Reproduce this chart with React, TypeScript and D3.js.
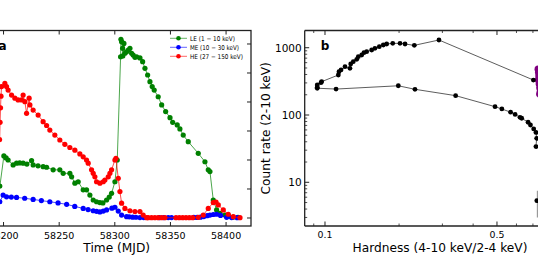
import React from 'react';
import * as d3 from 'd3';

// panel a: Insight-HXMT light curves (time in MJD, rate in arbitrary units)
const leTime = [58191, 58194, 58196.7, 58200.3, 58202.3, 58204.1, 58208.6, 58211.7, 58214.5, 58217.6, 58221, 58225.2, 58226.6, 58231, 58235.6, 58238.7, 58244.6, 58250.6, 58253.6, 58259.6, 58261.2, 58264.1, 58267.1, 58271.6, 58274.6, 58277.6, 58280.6, 58283.6, 58286.6, 58289.3, 58292.6, 58295, 58297.1, 58300.1, 58302.2, 58305.2, 58305.5, 58306.1, 58307, 58307.2, 58308.2, 58309.1, 58310.6, 58312.1, 58313.6, 58315.1, 58316.5, 58318.1, 58319.6, 58322.6, 58325, 58327.1, 58329.5, 58331.6, 58333.6, 58335.4, 58339, 58342.1, 58345.7, 58349.6, 58352, 58356.1, 58358.5, 58361.5, 58366, 58375, 58381, 58384, 58385.5, 58388.5, 58391.5, 58394.5, 58399, 58402.5, 58406.2, 58410.7];
const leRate = [20, 60, 110, 214, 207, 200, 183, 189, 190, 189, 186, 198, 183, 180, 177, 175, 166, 166, 154, 154, 142, 120, 125, 97, 97, 79, 62, 56, 53, 52, 62, 72, 85, 125, 200, 556, 616, 608, 585, 559, 602, 568, 573, 579, 585, 568, 562, 554, 556, 552, 539, 516, 493, 470, 453, 441, 418, 390, 367, 346, 330, 321, 307, 286, 263, 223, 194, 166, 160, 62, 28, 16, 10, 6, 3, 2];

const meTime = [58191, 58194, 58196.7, 58199.6, 58202.7, 58207, 58211.7, 58219, 58226.6, 58234, 58241.6, 58249, 58256.7, 58264, 58271.6, 58276, 58280.6, 58283.6, 58286.6, 58289.6, 58292.6, 58297.4, 58300.1, 58303.1, 58306.1, 58310.6, 58313, 58316, 58319, 58322.6, 58326, 58340, 58344, 58348, 58351, 58371, 58374, 58377, 58380, 58383, 58385.5, 58388.5, 58391.5, 58395, 58400.5, 58405, 58410];
const meRate = [15, 35, 56, 79, 73, 72, 71, 68, 64, 60, 56, 52, 47, 40, 33, 29, 25, 23, 21, 24, 28, 34, 37, 24, 10, 4.5, 4, 3, 2.5, 1.5, 1.5, 1.5, 1.5, 1.5, 1.5, 2, 2, 3, 5, 8, 10, 12, 13, 9, 2.4, 1.5, 1];

const heTime = [58191, 58194, 58196.5, 58196.9, 58197.3, 58197.7, 58198.2, 58201.2, 58202.7, 58204.1, 58207.2, 58210.2, 58213.1, 58216.2, 58217.6, 58219.2, 58220.7, 58223, 58223.7, 58226.6, 58231.1, 58235.6, 58238.7, 58241.6, 58246.1, 58250.6, 58255.1, 58259.6, 58264.1, 58268.6, 58271.6, 58274.6, 58276.1, 58279.1, 58280.6, 58282.1, 58283.6, 58286.6, 58289.6, 58291.1, 58294.1, 58295.6, 58297.1, 58300.1, 58301, 58303.1, 58304.6, 58306.1, 58309.1, 58313.6, 58318.1, 58322.6, 58325.5, 58328.6, 58330, 58333, 58336, 58339, 58342, 58345, 58355, 58358, 58361, 58364, 58367, 58370, 58375, 58379.5, 58384, 58388.5, 58391, 58393, 58397.5, 58402, 58406.5, 58412.5];
const heRate = [120, 200, 270, 330, 380, 420, 453, 464, 453, 441, 424, 413, 407, 407, 424, 401, 361, 413, 390, 372, 355, 332, 319, 303, 286, 269, 254, 243, 234, 221, 211, 200, 189, 166, 154, 142, 125, 120, 125, 131, 142, 154, 166, 200, 206, 137, 91, 51, 33, 25, 22, 22, 10, 1, 1, 1, 1, 1, 1, 1, 1, 1, 1, 1, 1, 1, 2.4, 10, 33, 53, 55, 45, 28, 13, 4.5, 1];

const xTicksA = [58200, 58250, 58300, 58350, 58400];
const yTicksA = [0, 100, 200, 300, 400, 500, 600];

// panel b: hardness-intensity diagram
const hidHardness = [0.703, 0.2905, 0.2307, 0.2115, 0.2018, 0.1885, 0.1781, 0.1726, 0.1662, 0.1596, 0.1548, 0.1477, 0.144, 0.141, 0.1366, 0.1346, 0.1303, 0.1272, 0.1263, 0.1206, 0.1162, 0.114, 0.1133, 0.0969, 0.0963, 0.093, 0.093, 0.093, 0.1109, 0.1986, 0.2321, 0.3396, 0.491, 0.5234, 0.568, 0.5925, 0.62, 0.63, 0.669, 0.684, 0.705, 0.72, 0.725, 0.72];
const hidRate = [331, 1302, 1085, 1135, 1162, 1162, 1135, 1097, 1035, 980, 925, 873, 843, 779, 735, 673, 620, 573, 494, 522, 467, 440, 393, 313, 302, 279, 258, 250, 243, 272, 241, 194, 133, 123, 110, 102, 92.5, 89.5, 78, 71, 62, 55, 45, 34];
const faintHardness = 0.726;
const faintRate = 5.33;
const faintErrLow = 3.0;
const faintErrHigh = 7.5;
const purpleHardness = [0.735, 0.738, 0.74, 0.737, 0.742, 0.746, 0.75, 0.745];
const purpleRate = [480, 430, 380, 330, 290, 255, 225, 205];

const xTicksB = [0.1, 0.5];
const xMinorB = [0.09, 0.2, 0.3, 0.4, 0.6, 0.7, 0.8];
const yTicksB = [10, 100, 1000];

const font = 'DejaVu Sans, sans-serif';

function Curve({ t, v, color, x, y }) {
  const pts = t.map((d, i) => [x(d), y(v[i])]);
  const line = d3.line()(pts);
  return (
    <g>
      <path d={line} fill="none" stroke={color} strokeOpacity={0.7} strokeWidth={1} />
      {pts.map((p, i) => (
        <circle key={i} cx={p[0]} cy={p[1]} r={2.6} fill={color} />
      ))}
    </g>
  );
}

export default function App() {
  const xA = d3.scaleLinear().domain([58181, 58422.4]).range([-17.6, 251]);
  const yA = d3.scaleLinear().domain([-27.6, 646.5]).range([226, 30.5]);
  const xB = d3.scaleLog().domain([0.0827, 0.8]).range([304.7, 547.2]);
  const yB = d3.scaleLog().domain([2.24, 1803]).range([226, 30.5]);

  const yMinorB = [];
  [1, 10, 100, 1000].forEach((dec) => {
    for (let m = 2; m <= 9; m++) {
      const val = dec * m;
      if (val > 2.24 && val < 1803) yMinorB.push(val);
    }
  });

  const hidPts = hidHardness.map((h, i) => [xB(h), yB(hidRate[i])]);
  const legend = [
    { label: 'LE (1 − 10 keV)', color: 'green', len: 45 },
    { label: 'ME (10 − 30 keV)', color: 'blue', len: 49 },
    { label: 'HE (27 − 150 keV)', color: 'red', len: 53 },
  ];

  return (
    <svg width={538} height={255} style={{ position: 'absolute', left: 0, top: 0 }} fontFamily={font}>
      <rect width={538} height={255} fill="white" />

      {/* panel a */}
      <g>
        <Curve t={leTime} v={leRate} color="green" x={xA} y={yA} />
        <Curve t={meTime} v={meRate} color="blue" x={xA} y={yA} />
        <Curve t={heTime} v={heRate} color="red" x={xA} y={yA} />
        <rect x={-17.6} y={30.5} width={268.6} height={195.5} fill="none" stroke="#222" strokeWidth={1.3} />
        {xTicksA.map((t) => (
          <g key={t}>
            <line x1={xA(t)} x2={xA(t)} y1={226} y2={222} stroke="#222" />
            <line x1={xA(t)} x2={xA(t)} y1={30.5} y2={34.5} stroke="#222" />
            <text x={xA(t)} y={238.5} fontSize={9.5} textAnchor="middle">{t}</text>
          </g>
        ))}
        {yTicksA.map((v) => (
          <line key={v} x1={251} x2={247} y1={yA(v)} y2={yA(v)} stroke="#222" />
        ))}
        <text x={116.7} y={251.5} fontSize={12.2} textAnchor="middle">Time (MJD)</text>
        <text x={-1.6} y={50} fontSize={12} fontWeight="bold">a</text>
        {legend.map((l, i) => (
          <g key={l.label} transform={`translate(0,${38.3 + i * 9})`}>
            <line x1={170} x2={187} y1={0} y2={0} stroke={l.color} strokeOpacity={0.6} strokeWidth={1} />
            <circle cx={178.5} cy={0} r={2.3} fill={l.color} />
            <text x={190} y={2.4} fontSize={6.6} textLength={l.len} lengthAdjust="spacingAndGlyphs">{l.label}</text>
          </g>
        ))}
      </g>

      {/* panel b */}
      <g>
        {purpleHardness.map((h, i) => (
          <circle key={i} cx={xB(h)} cy={yB(purpleRate[i])} r={3.6} fill="purple" />
        ))}
        <line x1={xB(faintHardness) + 1} x2={xB(faintHardness) + 1} y1={yB(faintErrLow)} y2={yB(faintErrHigh)} stroke="#999" strokeWidth={2} />
        <circle cx={xB(faintHardness)} cy={yB(faintRate)} r={2.4} fill="black" />
        <path d={d3.line()(hidPts)} fill="none" stroke="#333" strokeWidth={0.8} />
        {hidPts.map((p, i) => (
          <circle key={i} cx={p[0]} cy={p[1]} r={2.4} fill="black" />
        ))}
        <line x1={304.7} x2={304.7} y1={30.5} y2={226} stroke="#222" strokeWidth={1.3} />
        <line x1={304.7} x2={540} y1={30.5} y2={30.5} stroke="#222" strokeWidth={1.3} />
        <line x1={304.7} x2={540} y1={226} y2={226} stroke="#222" strokeWidth={1.3} />
        {xTicksB.map((h) => (
          <g key={h}>
            <line x1={xB(h)} x2={xB(h)} y1={226} y2={221.5} stroke="#222" />
            <line x1={xB(h)} x2={xB(h)} y1={30.5} y2={35} stroke="#222" />
            <text x={xB(h)} y={237.7} fontSize={9.4} textAnchor="middle">{h}</text>
          </g>
        ))}
        {xMinorB.map((h) => (
          <g key={h}>
            <line x1={xB(h)} x2={xB(h)} y1={226} y2={223.5} stroke="#222" strokeWidth={0.8} />
            <line x1={xB(h)} x2={xB(h)} y1={30.5} y2={33} stroke="#222" strokeWidth={0.8} />
          </g>
        ))}
        {yTicksB.map((v) => (
          <g key={v}>
            <line x1={304.7} x2={309.2} y1={yB(v)} y2={yB(v)} stroke="#222" />
            <text x={301.7} y={yB(v) + 3.8} fontSize={10.5} textAnchor="end">{v}</text>
          </g>
        ))}
        {yMinorB.map((v) => (
          <line key={v} x1={304.7} x2={307.2} y1={yB(v)} y2={yB(v)} stroke="#222" strokeWidth={0.8} />
        ))}
        <text transform="translate(270,128.3) rotate(-90)" fontSize={12.2} textAnchor="middle">Count rate (2-10 keV)</text>
        <text x={440} y={251.5} fontSize={12.2} textAnchor="middle">Hardness (4-10 keV/2-4 keV)</text>
        <text x={320.7} y={50} fontSize={12} fontWeight="bold">b</text>
      </g>
    </svg>
  );
}
